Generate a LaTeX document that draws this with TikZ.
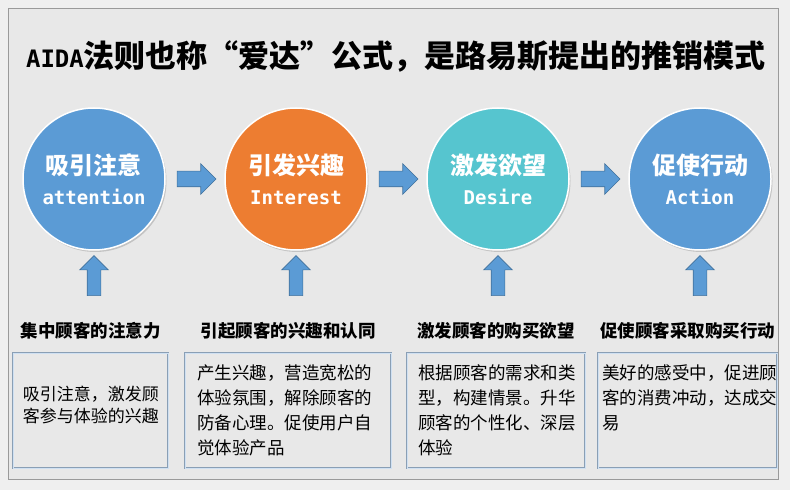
\documentclass[tikz,border=0pt]{standalone}
\usepackage{fontspec}
\setmainfont{Noto Sans CJK SC}
\newfontfamily\monofont{DejaVu Sans Mono}
\usetikzlibrary{positioning,shapes.arrows,shadows}

\definecolor{bgpage}{HTML}{EFEFEF}
\definecolor{bgframe}{HTML}{E8E8E8}
\definecolor{framegray}{HTML}{9A9A9A}
\definecolor{aidablue}{HTML}{5B9BD5}
\definecolor{aidaorange}{HTML}{ED7D31}
\definecolor{aidacyan}{HTML}{56C5CF}
\definecolor{arrowedge}{HTML}{41719C}
\definecolor{boxedge}{HTML}{8A9FB5}
\definecolor{boxinner}{HTML}{CFE0F2}

\newcommand\eng[1]{{\monofont\fontsize{19}{30}\selectfont #1}}

\begin{document}
\begin{tikzpicture}[x=1pt, y=1pt, node distance=202pt]
    \tikzstyle{stage}=[circle, minimum size=142pt, inner sep=0pt, draw=white, line width=1.5pt, text=white, align=center, font=\bfseries\fontsize{24}{30}\selectfont, drop shadow={opacity=0.35, shadow xshift=1.5pt, shadow yshift=-2pt}]
    \tikzstyle{harrow}=[single arrow, fill=aidablue, draw=arrowedge, line width=0.6pt, minimum height=39pt, single arrow head extend=7.5pt, inner sep=7.5pt]
    \tikzstyle{varrow}=[harrow, shape border rotate=90, minimum height=40pt, inner sep=6.5pt]
    \tikzstyle{goal}=[font=\bfseries\fontsize{17.5}{21}\selectfont, text=black]
    \tikzstyle{note}=[draw=boxedge, double=boxinner, double distance=0.8pt, fill=bgframe, minimum height=115pt]
    \tikzstyle{notetext}=[align=left, font=\fontsize{17.5}{25}\selectfont, inner sep=0pt]

    \useasboundingbox[fill=bgpage] (0,0) rectangle (790,490);
    \draw[framegray, fill=bgframe] (8,11) rectangle (778,482);

    \node[font=\bfseries\fontsize{31}{36}\selectfont] (title) at (396,434) {{\monofont\fontsize{24}{36}\selectfont AIDA}法则也称“爱达”公式，是路易斯提出的推销模式};

    % the four stages
    \node[stage, fill=aidablue] (attn) at (94,311) {吸引注意\\ \eng{attention}};
    \node[stage, fill=aidaorange, right of=attn] (inter) {引发兴趣\\ \eng{Interest}};
    \node[stage, fill=aidacyan, right of=inter] (desire) {激发欲望\\ \eng{Desire}};
    \node[stage, fill=aidablue, right of=desire] (action) {促使行动\\ \eng{Action}};

    \node[harrow, right=11pt of attn] (a1) {};
    \node[harrow, right=11pt of inter] (a2) {};
    \node[harrow, right=11pt of desire] (a3) {};

    \node[varrow, below of=attn, node distance=100pt] (u1) {};
    \node[varrow, below of=inter, node distance=100pt] (u2) {};
    \node[varrow, below of=desire, node distance=100pt] (u3) {};
    \node[varrow, below of=action, node distance=100pt] (u4) {};

    % boxes
    \node[note, minimum width=155pt] (b1) at (90.5,79.5) {};
    \node[note, minimum width=206pt] (b2) at (288,79.5) {};
    \node[note, minimum width=178pt] (b3) at (496,79.5) {};
    \node[note, minimum width=179pt] (b4) at (687.5,79.5) {};

    \node[goal, above of=b1, node distance=80pt] (g1) {集中顾客的注意力};
    \node[goal, above of=b2, node distance=80pt] (g2) {引起顾客的兴趣和认同};
    \node[goal, above of=b3, node distance=80pt] (g3) {激发顾客的购买欲望};
    \node[goal, above of=b4, node distance=80pt] (g4) {促使顾客采取购买行动};

    \node[notetext, font=\fontsize{17}{22}\selectfont, anchor=west] (t1) at ([shift={(10pt,6pt)}]b1.west) {吸引注意，激发顾\\客参与体验的兴趣};
    \node[notetext, anchor=north west] (t2) at ([shift={(12pt,-12pt)}]b2.north west) {产生兴趣，营造宽松的\\体验氛围，解除顾客的\\防备心理。促使用户自\\觉体验产品};
    \node[notetext, anchor=north west] (t3) at ([shift={(11pt,-12pt)}]b3.north west) {根据顾客的需求和类\\型，构建情景。升华\\顾客的个性化、深层\\体验};
    \node[notetext, anchor=north west] (t4) at ([shift={(4pt,-12pt)}]b4.north west) {美好的感受中，促进顾\\客的消费冲动，达成交\\易};
\end{tikzpicture}
\end{document}
